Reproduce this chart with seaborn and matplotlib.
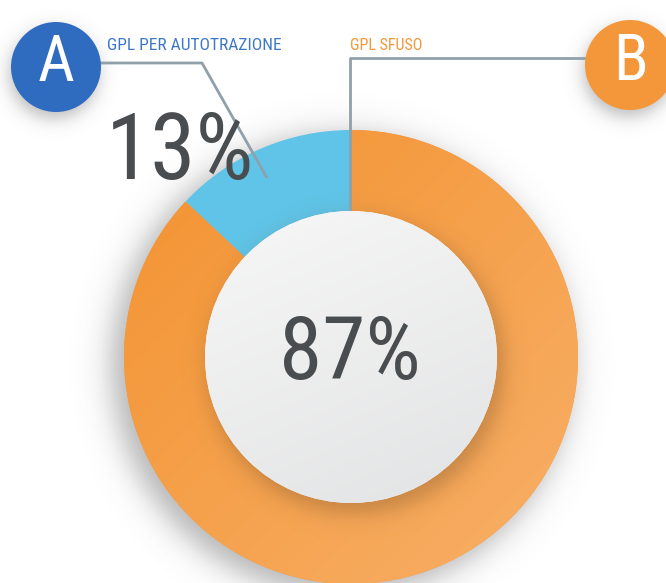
import os
import numpy as np
import matplotlib
matplotlib.use("Agg")
import matplotlib.pyplot as plt
import seaborn as sns
from matplotlib import font_manager
from matplotlib.font_manager import FontProperties
from matplotlib.patches import Circle
from matplotlib.colors import to_rgb

# ---- data ----
categories = ["GPL PER AUTOTRAZIONE", "GPL SFUSO"]
values = [13, 87]
pct_labels = ["13%", "87%"]
badge_letters = ["A", "B"]

sns.set_theme(style="white")
plt.rcParams['font.family'] = ['DejaVu Sans']

# find a condensed / narrow font file if available
cands = []
for f in font_manager.fontManager.ttflist:
    base = os.path.basename(f.fname).lower()
    if ('condensed' in base or 'narrow' in base or 'cond' in base) and 'italic' not in base \
            and 'oblique' not in base and 'bold' not in base and 'light' not in base:
        cands.append(f.fname)
pref = ['robotocondensed', 'liberationsansnarrow', 'opensanscondensed', 'dejavusanscondensed']
chosen = None
for p in pref:
    for c in cands:
        if p in os.path.basename(c).lower().replace('-', '').replace('_', ''):
            chosen = c
            break
    if chosen:
        break
if chosen is None and cands:
    chosen = cands[0]


def fp(size):
    if chosen:
        return FontProperties(fname=chosen, size=size)
    return FontProperties(family='DejaVu Sans', stretch='condensed', size=size)


W, H = 666, 583
fig = plt.figure(figsize=(W / 100, H / 100), dpi=100)
ax = fig.add_axes([0, 0, 1, 1])


def Y(y):
    return H - y


cx, cy = 351, 357
R_out, R_in = 227, 146
palette = sns.color_palette(["#5fc4e7", "#f4973a"])
blue_badge = "#2f6cc0"
text_dark = "#4a4d50"
line_col = "#8fa0aa"

# ---- soft shadows (pixel space) ----
yy, xx = np.mgrid[0:H, 0:W] + 0.5


def soft(cxs, cys, r, s, a):
    d = np.hypot(xx - cxs, yy - cys)
    return a / (1 + np.exp((d - r) / s))


alpha = soft(cx - 9, cy + 8, R_out + 3, 9, 0.45)
alpha = np.maximum(alpha, soft(54, 74, 44, 5, 0.40))
alpha = np.maximum(alpha, soft(628, 72, 44, 5, 0.40))
rgba = np.zeros((H, W, 4))
rgba[..., :3] = 0.35
rgba[..., 3] = alpha
ax.imshow(rgba, extent=(0, W, 0, H), origin='upper', zorder=0, interpolation='bilinear')

# ---- donut ----
wedges, _ = ax.pie(values, colors=palette, startangle=90, counterclock=True,
                   radius=R_out, center=(cx, Y(cy)),
                   wedgeprops=dict(width=R_out - R_in + 10, linewidth=0), frame=True)
for w in wedges:
    w.set_zorder(1)

g = np.linspace(0, 1, 256)
gx, gy = np.meshgrid(g, g)
t = (gx + gy) / 2
c0, c1 = np.array(to_rgb("#f39230")), np.array(to_rgb("#f8b068"))
img = c0 + (c1 - c0) * t[..., None]
im = ax.imshow(img, extent=(cx - R_out, cx + R_out, Y(cy) - R_out, Y(cy) + R_out),
               origin='upper', zorder=1.5)
im.set_clip_path(wedges[1])

# inner circle shadow onto ring
a2 = soft(cx + 5, cy + 9, R_in + 2, 6, 0.35)
rgba2 = np.zeros((H, W, 4))
rgba2[..., 0] = 0.45
rgba2[..., 1] = 0.30
rgba2[..., 2] = 0.15
rgba2[..., 3] = a2
ax.imshow(rgba2, extent=(0, W, 0, H), origin='upper', zorder=2, interpolation='bilinear')

# leader lines
ax.plot([100, 202, 267], [Y(63), Y(63), Y(178)], color=line_col, lw=2, zorder=3,
        solid_capstyle='butt')
ax.plot([586, 350, 350], [Y(58), Y(58), Y(212)], color=line_col, lw=2, zorder=3,
        solid_capstyle='butt')

# inner circle with gradient
inner = Circle((cx, Y(cy)), R_in, fc="#f1f1f1", ec='none', zorder=4)
ax.add_patch(inner)
d0, d1 = np.array(to_rgb("#f7f7f7")), np.array(to_rgb("#e2e3e4"))
img2 = d0 + (d1 - d0) * (0.3 * gx + 0.7 * gy)[..., None]
im2 = ax.imshow(img2, extent=(cx - R_in, cx + R_in, Y(cy) - R_in, Y(cy) + R_in),
                origin='upper', zorder=4.5)
im2.set_clip_path(inner)

# percentages
ax.text(180, Y(154), pct_labels[0], fontproperties=fp(66), color=text_dark, ha='center',
        va='center', zorder=6)
ax.text(350, Y(355), pct_labels[1], fontproperties=fp(63), color=text_dark, ha='center',
        va='center', zorder=6)

# badges
ax.add_patch(Circle((56, Y(67)), 45, fc=blue_badge, ec='none', zorder=5))
ax.text(56, Y(63), badge_letters[0], fontproperties=fp(46), color='white', ha='center',
        va='center', zorder=6)
ax.add_patch(Circle((630, Y(65)), 45, fc="#f4973a", ec='none', zorder=5))
ax.text(630, Y(62), badge_letters[1], fontproperties=fp(46), color='white', ha='center',
        va='center', zorder=6)

# category labels
ax.text(107, Y(45), categories[0], fontproperties=fp(12.5), color="#3d78c8", ha='left',
        va='center', zorder=6)
ax.text(350, Y(45), categories[1], fontproperties=fp(11.5), color="#f4973a", ha='left',
        va='center', zorder=6)

ax.set_xlim(0, W)
ax.set_ylim(0, H)
ax.set_aspect('equal')
ax.axis('off')
fig.savefig("out.png", dpi=100)
